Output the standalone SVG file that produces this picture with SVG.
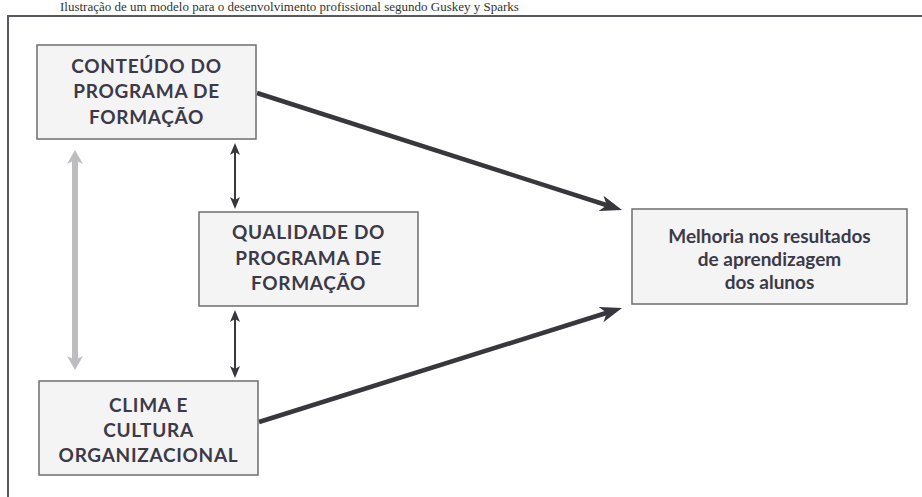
<svg xmlns="http://www.w3.org/2000/svg" width="922" height="497" viewBox="0 0 922 497">
<style>
.box{fill:#f4f4f4;stroke:#6e6e72;stroke-width:1.5}
.t{font-family:Lato,"Open Sans","Liberation Sans",sans-serif;font-weight:bold;font-size:19px;letter-spacing:0.7px;fill:#3c3a48;text-anchor:middle}
.tm{font-family:Lato,"Open Sans","Liberation Sans",sans-serif;font-weight:bold;font-size:19px;fill:#3c3a48;text-anchor:middle}
.cap{font-family:"Liberation Serif",serif;font-size:13px;fill:#333}
.big{stroke:#38373d;stroke-width:4.5;fill:none}
.small{stroke:#38373d;stroke-width:2;fill:none}
.gray{stroke:#bdbdbf;stroke-width:6;fill:none}
</style>
<defs>
<marker id="hBig" markerUnits="userSpaceOnUse" markerWidth="24" markerHeight="18" viewBox="0 0 24 18" refX="12" refY="8" orient="auto">
<path d="M0,0 L22,8 L0,16 L6,8 z" fill="#38373d"/>
</marker>
<marker id="hSmall" markerUnits="userSpaceOnUse" markerWidth="14" markerHeight="12" viewBox="0 0 14 12" refX="6" refY="5" orient="auto-start-reverse">
<path d="M0,0 L12,5 L0,10 L3,5 z" fill="#38373d"/>
</marker>
<marker id="hGray" markerUnits="userSpaceOnUse" markerWidth="16" markerHeight="18" viewBox="0 0 16 18" refX="6" refY="8" orient="auto-start-reverse">
<path d="M0,0 L14,8 L0,16 L4,8 z" fill="#bdbdbf"/>
</marker>
</defs>
<rect width="922" height="497" fill="#ffffff"/>
<text class="cap" x="60" y="11">Ilustração de um modelo para o desenvolvimento profissional segundo Guskey y Sparks</text>
<g id="frame">
<path d="M8,497 L8,16 L922,16" fill="none" stroke="#5a5a5e" stroke-width="2"/>
</g>
<g id="connectors">
<path class="big" d="M257,93 L612.5,207" marker-end="url(#hBig)"/>
<path class="big" d="M259,422 L612.5,311" marker-end="url(#hBig)"/>
<path class="small" d="M235,149 L235,203" marker-start="url(#hSmall)" marker-end="url(#hSmall)"/>
<path class="small" d="M235,316 L235,372" marker-start="url(#hSmall)" marker-end="url(#hSmall)"/>
<path class="gray" d="M75,158 L75,362" marker-start="url(#hGray)" marker-end="url(#hGray)"/>
</g>
<g id="conteudo">
<rect class="box" x="37" y="45" width="219" height="94"/>
<text class="t" x="146.5" y="73">CONTEÚDO DO</text>
<text class="t" x="146.5" y="98">PROGRAMA DE</text>
<text class="t" x="146.5" y="124">FORMAÇÃO</text>
</g>
<g id="qualidade">
<rect class="box" x="199" y="212" width="219" height="94"/>
<text class="t" x="308.5" y="239">QUALIDADE DO</text>
<text class="t" x="308.5" y="265">PROGRAMA DE</text>
<text class="t" x="308.5" y="290">FORMAÇÃO</text>
</g>
<g id="clima">
<rect class="box" x="39" y="381" width="219" height="94"/>
<text class="t" x="148.5" y="412">CLIMA E</text>
<text class="t" x="148.5" y="437">CULTURA</text>
<text class="t" x="148.5" y="462">ORGANIZACIONAL</text>
</g>
<g id="melhoria">
<rect class="box" x="632" y="209" width="275" height="95"/>
<text class="tm" x="769.5" y="243">Melhoria nos resultados</text>
<text class="tm" x="769.5" y="266">de aprendizagem</text>
<text class="tm" x="769.5" y="289">dos alunos</text>
</g>
</svg>
